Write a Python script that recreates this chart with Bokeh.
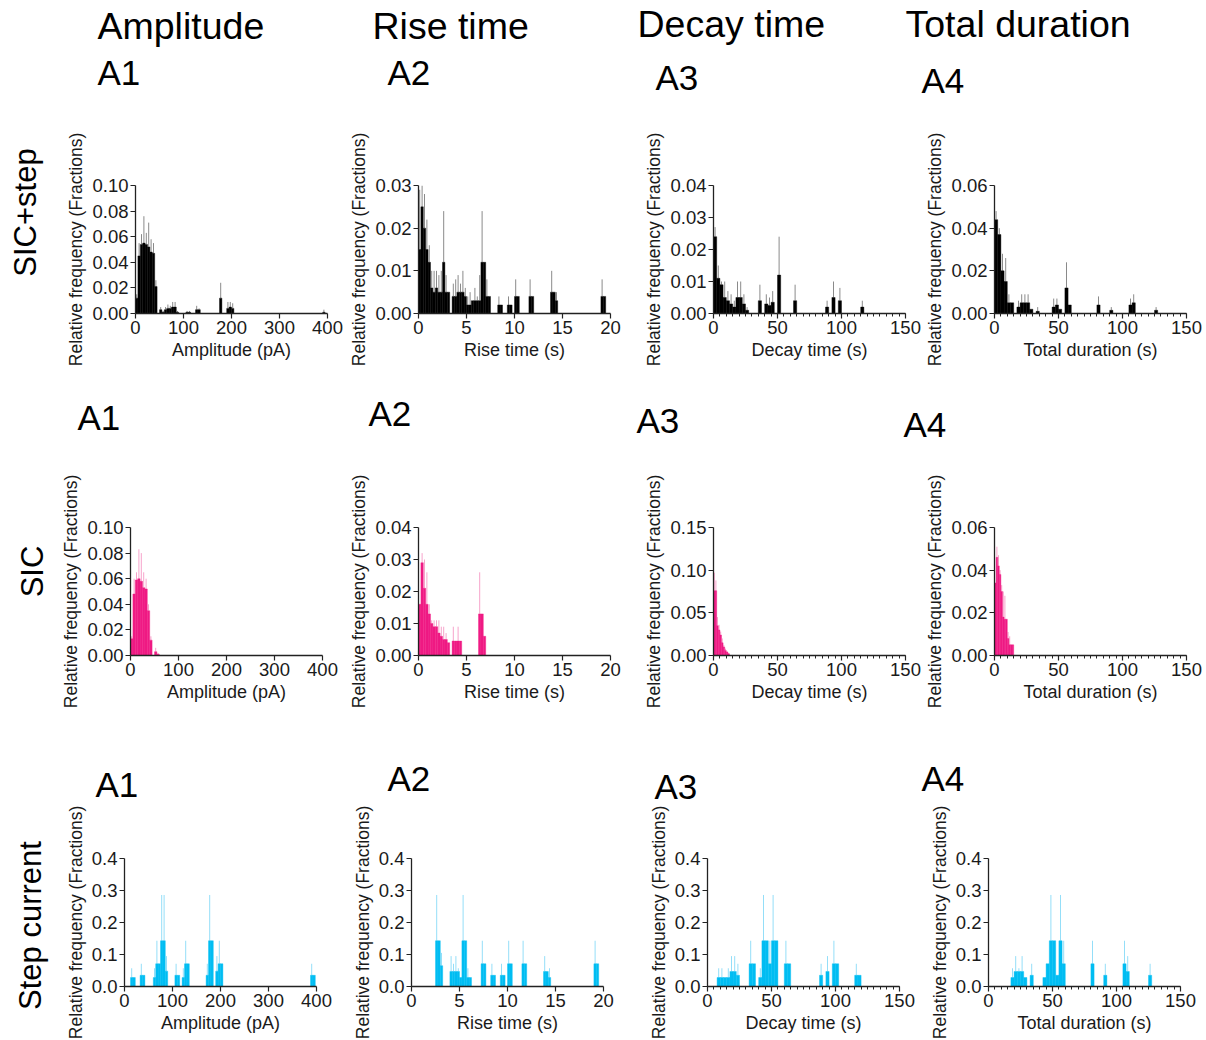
import math
from bokeh.plotting import figure
from bokeh.layouts import row, column
from bokeh.models import Range1d, FixedTicker, PrintfTickFormatter, ColumnDataSource
from bokeh.core.properties import value
from bokeh.embed import file_html
from bokeh.resources import INLINE

# ---------------- texts ----------------
measures = ["Amplitude", "Rise time", "Decay time", "Total duration"]
panel_ids = ["A1", "A2", "A3", "A4"]
row_names = ["SIC+step", "SIC", "Step current"]
x_titles = ["Amplitude (pA)", "Rise time (s)", "Decay time (s)", "Total duration (s)"]
y_title = "Relative frequency (Fractions)"

# ---------------- ticks ----------------
x_ticks = [[0, 100, 200, 300, 400], [0, 5, 10, 15, 20], [0, 50, 100, 150], [0, 50, 100, 150]]
x_minor = [[], [], list(range(0, 151, 5)), list(range(0, 151, 5))]
y_ticks_row1 = [[0, 0.02, 0.04, 0.06, 0.08, 0.10], [0, 0.01, 0.02, 0.03],
                [0, 0.01, 0.02, 0.03, 0.04], [0, 0.02, 0.04, 0.06]]
y_ticks_row2 = [[0, 0.02, 0.04, 0.06, 0.08, 0.10], [0, 0.01, 0.02, 0.03, 0.04],
                [0, 0.05, 0.10, 0.15], [0, 0.02, 0.04, 0.06]]
y_ticks_row3 = [[0, 0.1, 0.2, 0.3, 0.4]] * 4
y_formats = ["%.2f", "%.2f", "%.1f"]

# ---------------- data: SIC+step (black) ----------------
amp_all_w = 5
amp_all_x = [2.5, 7.5, 12.5, 17.5, 22.5, 27.5, 32.5, 37.5, 42.5, 52.5, 57.5, 62.5, 67.5, 72.5,
             77.5, 82.5, 87.5, 107.5, 112.5, 127.5, 132.5, 177.5, 192.5, 197.5, 202.5, 392.5]
amp_all_y = [0.012, 0.045, 0.054, 0.055, 0.054, 0.052, 0.048, 0.047, 0.021, 0.003, 0.001, 0.003,
             0.004, 0.004, 0.005, 0.005, 0.001, 0.001, 0.001, 0.003, 0.003, 0.012, 0.004, 0.005,
             0.004, 0.001]
amp_all_e = [0.015, 0.055, 0.062, 0.076, 0.063, 0.071, 0.058, 0.055, 0.026, 0.005, 0.002, 0.005,
             0.007, 0.006, 0.009, 0.009, 0.002, 0.002, 0.002, 0.006, 0.004, 0.024, 0.009, 0.009,
             0.008, 0.003]

rise_all_w = 0.25
rise_all_x = [0.125, 0.375, 0.625, 0.875, 1.125, 1.375, 1.625, 1.875, 2.125, 2.375, 2.625, 2.875,
              3.125, 3.625, 3.875, 4.125, 4.375, 4.625, 4.875, 5.125, 5.375, 5.625, 5.875, 6.125,
              6.375, 6.625, 6.875, 7.125, 7.375, 8.375, 8.625, 9.375, 9.625, 10.125, 10.375,
              11.625, 11.875, 13.875, 14.125, 14.375, 19.125, 19.375]
rise_all_y = [0.015, 0.025, 0.020, 0.015, 0.012, 0.006, 0.005, 0.006, 0.005, 0.005, 0.012, 0.005,
              0.005, 0.004, 0.004, 0.005, 0.005, 0.005, 0.004, 0.002, 0.002, 0.003, 0.003, 0.003,
              0.003, 0.012, 0.012, 0.004, 0.004, 0.002, 0.002, 0.002, 0.002, 0.004, 0.004,
              0.004, 0.004, 0.005, 0.005, 0.003, 0.004, 0.004]
rise_all_e = [0.029, 0.030, 0.028, 0.022, 0.016, 0.010, 0.010, 0.010, 0.009, 0.010, 0.024, 0.009,
              0.005, 0.007, 0.008, 0.009, 0.007, 0.010, 0.006, 0.004, 0.005, 0.003, 0.006, 0.004,
              0.009, 0.024, 0.012, 0.008, 0.004, 0.004, 0.002, 0.004, 0.002, 0.008, 0.004,
              0.008, 0.004, 0.010, 0.005, 0.005, 0.008, 0.004]

decay_all_w = 2.5
decay_all_x = [1.25, 3.75, 6.25, 8.75, 11.25, 13.75, 16.25, 18.75, 21.25, 23.75, 26.25, 36.25,
               41.25, 43.75, 46.25, 51.25, 63.75, 88.75, 93.75, 98.75, 116.25]
decay_all_y = [0.024, 0.011, 0.009, 0.005, 0.004, 0.003, 0.002, 0.005, 0.005, 0.003, 0.001, 0.004,
               0.003, 0.0025, 0.0035, 0.012, 0.004, 0.002, 0.005, 0.004, 0.002]
decay_all_e = [0.027, 0.015, 0.010, 0.010, 0.007, 0.006, 0.004, 0.010, 0.010, 0.006, 0.002, 0.009,
               0.006, 0.005, 0.007, 0.024, 0.009, 0.004, 0.010, 0.008, 0.004]

dur_all_w = 2.5
dur_all_x = [1.25, 3.75, 6.25, 8.75, 11.25, 13.75, 18.75, 21.25, 23.75, 26.25, 28.75, 33.75,
             46.25, 48.75, 51.25, 56.25, 58.75, 81.25, 91.25, 106.25, 108.75, 126.25]
dur_all_y = [0.044, 0.037, 0.020, 0.015, 0.005, 0.005, 0.003, 0.005, 0.005, 0.005, 0.002, 0.001,
             0.003, 0.004, 0.002, 0.012, 0.004, 0.004, 0.0015, 0.004, 0.005, 0.0015]
dur_all_e = [0.048, 0.040, 0.028, 0.026, 0.009, 0.005, 0.006, 0.009, 0.009, 0.009, 0.002, 0.003,
             0.007, 0.007, 0.002, 0.024, 0.004, 0.008, 0.003, 0.007, 0.009, 0.003]

# ---------------- data: SIC (pink) ----------------
amp_sic_w = 5
amp_sic_x = [2.5, 7.5, 12.5, 17.5, 22.5, 27.5, 32.5, 37.5, 42.5, 52.5, 57.5]
amp_sic_y = [0.013, 0.048, 0.059, 0.060, 0.058, 0.053, 0.052, 0.035, 0.012, 0.003, 0.001]
amp_sic_e = [0.015, 0.060, 0.065, 0.083, 0.080, 0.065, 0.060, 0.040, 0.015, 0.006, 0.002]

rise_sic_w = 0.25
rise_sic_x = [0.125, 0.375, 0.625, 0.875, 1.125, 1.375, 1.625, 1.875, 2.125, 2.375, 2.625, 2.875,
              3.125, 3.625, 3.875, 4.125, 4.375, 6.375, 6.625, 6.875]
rise_sic_y = [0.016, 0.029, 0.021, 0.016, 0.013, 0.010, 0.009, 0.009, 0.007, 0.006, 0.005, 0.005,
              0.004, 0.0045, 0.0045, 0.0045, 0.0045, 0.013, 0.013, 0.006]
rise_sic_e = [0.016, 0.032, 0.030, 0.026, 0.016, 0.011, 0.011, 0.011, 0.011, 0.009, 0.009, 0.007,
              0.004, 0.009, 0.0045, 0.009, 0.0045, 0.026, 0.013, 0.006]

decay_sic_w = 1.25
decay_sic_x = [0.625, 1.875, 3.125, 4.375, 5.625, 6.875, 8.125, 9.375, 10.625, 11.875]
decay_sic_y = [0.076, 0.076, 0.035, 0.030, 0.024, 0.015, 0.010, 0.006, 0.004, 0.002]
decay_sic_e = [0.097, 0.088, 0.045, 0.036, 0.028, 0.020, 0.012, 0.008, 0.005, 0.003]

dur_sic_w = 1.25
dur_sic_x = [0.625, 1.875, 3.125, 4.375, 5.625, 6.875, 8.125, 9.375, 10.625, 11.875, 13.125, 14.375]
dur_sic_y = [0.034, 0.046, 0.042, 0.038, 0.030, 0.018, 0.017, 0.017, 0.008, 0.005, 0.005, 0.005]
dur_sic_e = [0.034, 0.051, 0.047, 0.040, 0.033, 0.030, 0.028, 0.017, 0.011, 0.009, 0.005, 0.005]

# ---------------- data: Step current (cyan) ----------------
amp_step_w = 5
amp_step_x = [15, 20, 35, 40, 62.5, 67.5, 72.5, 77.5, 82.5, 87.5, 107.5, 112.5, 122.5, 127.5, 132.5,
              172.5, 177.5, 182.5, 192.5, 197.5, 202.5, 390, 395]
amp_step_y = [0.028, 0.028, 0.035, 0.035, 0.028, 0.071, 0.071, 0.143, 0.143, 0.048, 0.035, 0.035,
              0.028, 0.071, 0.071, 0.035, 0.143, 0.143, 0.048, 0.071, 0.071, 0.035, 0.035]
amp_step_e = [0.057, 0.028, 0.071, 0.035, 0.057, 0.143, 0.071, 0.286, 0.286, 0.095, 0.071, 0.035,
              0.057, 0.143, 0.071, 0.071, 0.286, 0.143, 0.095, 0.143, 0.071, 0.071, 0.035]

rise_step_w = 0.25
rise_step_x = [2.625, 2.875, 3.125, 4.125, 4.375, 4.625, 4.875, 5.125, 5.375, 5.625, 5.875, 6.125,
               7.375, 7.625, 8.375, 8.625, 9.375, 9.625, 10.125, 10.375, 11.625, 11.875,
               13.875, 14.125, 14.375, 19.125, 19.375]
rise_step_y = [0.143, 0.143, 0.065, 0.047, 0.047, 0.047, 0.047, 0.028, 0.143, 0.143, 0.028, 0.028,
               0.071, 0.071, 0.035, 0.035, 0.035, 0.035, 0.071, 0.071, 0.071, 0.071,
               0.047, 0.047, 0.028, 0.071, 0.071]
rise_step_e = [0.286, 0.143, 0.105, 0.095, 0.071, 0.095, 0.057, 0.028, 0.286, 0.143, 0.057, 0.028,
               0.143, 0.071, 0.071, 0.035, 0.071, 0.035, 0.143, 0.071, 0.143, 0.071,
               0.095, 0.047, 0.057, 0.143, 0.071]

decay_step_w = 2.5
decay_step_x = [8.75, 11.25, 13.75, 16.25, 18.75, 21.25, 23.75, 33.75, 36.25, 41.25, 43.75, 46.25,
                48.75, 51.25, 53.75, 61.25, 63.75, 88.75, 93.75, 98.75, 101.25, 116.25, 118.75]
decay_step_y = [0.028, 0.028, 0.028, 0.028, 0.047, 0.047, 0.035, 0.071, 0.071, 0.028, 0.143, 0.143,
                0.071, 0.143, 0.143, 0.071, 0.071, 0.035, 0.047, 0.071, 0.071, 0.035, 0.035]
decay_step_e = [0.057, 0.057, 0.028, 0.057, 0.095, 0.095, 0.071, 0.143, 0.071, 0.057, 0.286, 0.143,
                0.143, 0.286, 0.143, 0.143, 0.071, 0.071, 0.095, 0.143, 0.071, 0.071, 0.035]

dur_step_w = 2.5
dur_step_x = [18.75, 21.25, 23.75, 26.25, 28.75, 33.75, 43.75, 46.25, 48.75, 51.25, 53.75, 56.25,
              58.75, 81.25, 91.25, 106.25, 108.75, 126.25]
dur_step_y = [0.028, 0.047, 0.047, 0.047, 0.028, 0.035, 0.028, 0.071, 0.143, 0.143, 0.035, 0.143,
              0.071, 0.071, 0.035, 0.071, 0.047, 0.035]
dur_step_e = [0.057, 0.095, 0.057, 0.095, 0.028, 0.071, 0.028, 0.071, 0.286, 0.143, 0.035, 0.286,
              0.143, 0.143, 0.071, 0.143, 0.095, 0.071]

rows_data = [
    [(amp_all_x, amp_all_y, amp_all_e, amp_all_w), (rise_all_x, rise_all_y, rise_all_e, rise_all_w),
     (decay_all_x, decay_all_y, decay_all_e, decay_all_w), (dur_all_x, dur_all_y, dur_all_e, dur_all_w)],
    [(amp_sic_x, amp_sic_y, amp_sic_e, amp_sic_w), (rise_sic_x, rise_sic_y, rise_sic_e, rise_sic_w),
     (decay_sic_x, decay_sic_y, decay_sic_e, decay_sic_w), (dur_sic_x, dur_sic_y, dur_sic_e, dur_sic_w)],
    [(amp_step_x, amp_step_y, amp_step_e, amp_step_w), (rise_step_x, rise_step_y, rise_step_e, rise_step_w),
     (decay_step_x, decay_step_y, decay_step_e, decay_step_w), (dur_step_x, dur_step_y, dur_step_e, dur_step_w)],
]
rows_yticks = [y_ticks_row1, y_ticks_row2, y_ticks_row3]

# ---------------- styles / layout (page pixels) ----------------
FONT = "Liberation Sans"
bar_colors = ["#000000", "#EF1A84", "#00BDF2"]
err_colors = ["#8A8A8A", "#F7A3CB", "#94DEF8"]
FW, FH = 192, 128
TOTAL_W = 1204
LEFT_W = 50
TOTAL_H = 1038
LEFT_NEED = 72      # space needed left of a y-axis for its labels
RIGHT_NEED = 17     # space needed right of a frame for the last x tick label
axes_x = [[135, 418, 713, 992], [130, 418, 713, 990], [124, 411, 707, 986]]
strip_top = [0, 372, 715]
strip_h = [120, 98, 91]
band_h = [252, 245, 232]
band_top = [65, 57, 52]
row_label_pos = [(25, 212), (32, 571), (30, 925)]
header_items = [(97, 25, measures[0]), (372, 25, measures[1]), (637, 23, measures[2]),
                (905, 23, measures[3])]
id_pos = [[(97, 72), (387, 72), (655, 77), (921, 80)],
          [(77, 417), (368, 413), (636, 420), (903, 424)],
          [(95, 784), (387, 778), (654, 786), (921, 778)]]


def blank_fig(w, h):
    f = figure(width=w, height=h, x_range=Range1d(0, w), y_range=Range1d(h, 0),
               x_axis_type=None, y_axis_type=None, min_border=0,
               output_backend="svg", toolbar_location=None)
    f.outline_line_color = None
    f.grid.visible = False
    f.background_fill_color = "white"
    f.border_fill_color = "white"
    return f


def strip_fig(r):
    top = strip_top[r]
    f = blank_fig(TOTAL_W - LEFT_W, strip_h[r])
    if r == 0:
        f.text(x=[i[0] - LEFT_W for i in header_items], y=[i[1] - top for i in header_items],
               text=[i[2] for i in header_items],
               text_font=value(FONT), text_font_size="37.5px", text_color="#000000",
               text_align="left", text_baseline="middle")
    pos = id_pos[r]
    f.text(x=[q[0] - LEFT_W for q in pos], y=[q[1] - top for q in pos], text=panel_ids,
           text_font=value(FONT), text_font_size="35px", text_color="#000000",
           text_align="left", text_baseline="middle")
    return f


def label_fig():
    f = blank_fig(LEFT_W, TOTAL_H)
    f.text(x=[q[0] for q in row_label_pos], y=[q[1] for q in row_label_pos], text=row_names,
           angle=math.pi / 2, text_font=value(FONT), text_font_size="31px",
           text_color="#000000", text_align="center", text_baseline="middle")
    return f


def style_axis(ax, label_size):
    ax.axis_line_color = "#222222"
    ax.axis_line_width = 1.3
    ax.major_tick_line_color = "#222222"
    ax.major_tick_line_width = 1.2
    ax.major_tick_out = 5
    ax.major_tick_in = 0
    ax.minor_tick_line_color = "#222222"
    ax.minor_tick_out = 3
    ax.minor_tick_in = 0
    ax.major_label_text_font = FONT
    ax.major_label_text_font_size = "18.5px"
    ax.major_label_text_color = "#1a1a1a"
    ax.major_label_standoff = 2
    ax.axis_label_text_font = FONT
    ax.axis_label_text_font_size = label_size
    ax.axis_label_text_font_style = "normal"
    ax.axis_label_text_color = "#1a1a1a"
    ax.axis_label_standoff = 3


def panel(r, c, left, right, top, bottom):
    xs, ys, es, bw = rows_data[r][c]
    yt = rows_yticks[r][c]
    xt = x_ticks[c]
    p = figure(frame_width=FW, frame_height=FH,
               x_range=Range1d(0, xt[-1]), y_range=Range1d(0, yt[-1]),
               min_border_left=left, min_border_right=right,
               min_border_top=top, min_border_bottom=bottom,
               output_backend="svg", toolbar_location=None)
    p.outline_line_color = None
    p.grid.visible = False
    p.background_fill_color = "white"
    p.border_fill_color = "white"
    src = ColumnDataSource(dict(x=xs, top=ys, err=es))
    p.segment(x0="x", y0="top", x1="x", y1="err", source=src,
              line_color=err_colors[r], line_width=1)
    p.vbar(x="x", top="top", width=bw, bottom=0, source=src,
           fill_color=bar_colors[r], line_color=bar_colors[r], line_width=0.4)
    xa = p.xaxis[0]
    xa.ticker = FixedTicker(ticks=xt, minor_ticks=x_minor[c])
    xa.formatter = PrintfTickFormatter(format="%d")
    xa.axis_label = x_titles[c]
    ya = p.yaxis[0]
    ya.ticker = FixedTicker(ticks=yt, minor_ticks=[])
    ya.formatter = PrintfTickFormatter(format=y_formats[r])
    ya.axis_label = y_title
    style_axis(xa, "18px")
    style_axis(ya, "17.5px")
    return p


children = []
for r in range(3):
    children.append(strip_fig(r))
    ax = axes_x[r]
    starts = [LEFT_W]
    for c in range(1, 4):
        starts.append(max(ax[c] - LEFT_NEED, starts[c - 1] + (ax[c - 1] - starts[c - 1]) + FW + RIGHT_NEED))
    # actual axis positions after guaranteeing room
    axp = [max(ax[0], LEFT_W + LEFT_NEED)] + [s + max(LEFT_NEED, a - s) for s, a in zip(starts[1:], ax[1:])]
    ends = starts[1:] + [TOTAL_W]
    top = band_top[r]
    bottom = band_h[r] - top - FH
    figs = []
    for c in range(4):
        left = axp[c] - starts[c]
        right = ends[c] - (axp[c] + FW)
        figs.append(panel(r, c, left, right, top, bottom))
    children.append(row(*figs, spacing=0))

layout = row(label_fig(), column(*children, spacing=0), spacing=0)
open("out.html", "w").write(file_html(layout, INLINE))
